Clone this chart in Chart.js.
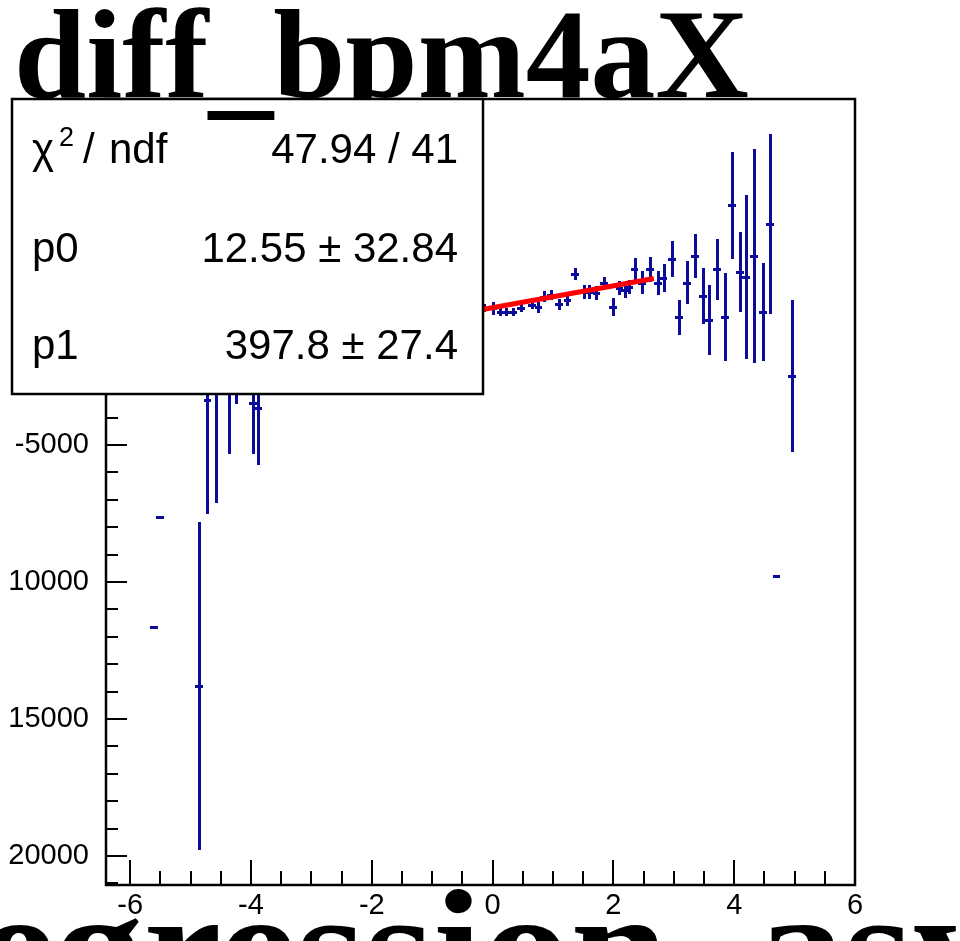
<!DOCTYPE html>
<html>
<head>
<meta charset="utf-8">
<script src="https://cdn.jsdelivr.net/npm/chart.js@4/dist/chart.umd.min.js"></script>
<style>
    html, body { margin: 0; padding: 0; background: #fff; overflow: hidden; }
    #wrap { position: relative; width: 960px; height: 941px; overflow: hidden; background: #fff; }
    #plot { position: absolute; left: -10px; top: 0; width: 970px; height: 941px; }
</style>
</head>
<body>
<div id="wrap"><canvas id="plot" width="970" height="941"></canvas></div>
<script>
// profile points (bin mean x, mean y, error on y)
const xVals = [
    -5.61, -5.50, -4.86, -4.72, -4.58, -4.37, -4.24, -3.97, -3.88,
    -3.75, -3.62, -3.50, -3.37, -3.25, -3.12, -3.00, -2.87, -2.75, -2.62,
    -2.50, -2.37, -2.25, -2.12, -2.00, -1.87, -1.75, -1.62, -1.50, -1.37,
    -1.25, -1.12, -1.00, -0.87, -0.75, -0.62, -0.50, -0.37, -0.25,
    -0.14, 0.00, 0.13, 0.23, 0.34, 0.47, 0.65, 0.76, 0.85, 0.97,
    1.10, 1.24, 1.36, 1.51, 1.60, 1.72, 1.84, 1.99, 2.10, 2.19,
    2.26, 2.35, 2.48, 2.61, 2.74, 2.83, 2.97, 3.09, 3.22, 3.35,
    3.48, 3.58, 3.71, 3.85, 3.97, 4.10, 4.20, 4.33, 4.47, 4.59,
    4.70, 4.95
];
const yVals = [
    -11640, -7640, -13790, -3360, -1800, -1200, -900, -3460, -3660,
    -1900, -1400, -1900, -1300, -900, -1800, -1100, -1500, -1000, -1150,
    -950, -870, -1000, -800, -760, -820, -640, -700, -560, -600,
    -420, -520, -380, -330, -320, -230, -200, -150, -90,
    -10, -10, -135, -135, -135, -10, 110, 25, 410, 475,
    145, 290, 1230, 595, 595, 560, 925, 45, 720, 655,
    780, 1410, 925, 1410, 925, 1105, 1790, -340, 925, 1900,
    440, -440, 1410, -340, 3750, 1310, 1120, 1900, -145, 3065,
    -9790, -2480
];
const yErrs = [
    0, 0, 5990, 4140, 5300, 4130, 2600, 1870, 2080,
    1000, 900, 900, 800, 700, 750, 600, 550, 500, 450,
    400, 380, 350, 330, 300, 280, 260, 240, 220, 210,
    200, 190, 180, 170, 160, 160, 150, 150, 150,
    150, 240, 150, 150, 150, 150, 150, 200, 200, 200,
    200, 200, 220, 250, 250, 250, 220, 320, 250, 300,
    250, 400, 420, 470, 440, 520, 640, 640, 780, 810,
    1020, 1265, 1110, 1610, 1950, 1460, 2990, 3920, 1790, 3300,
    0, 2770
];
const xErr = 0.065;

// pol1 fit drawn over its range
const fitX = [-2.5, 2.67];
const fitY = [-982, 1075];

const xTicks = [-6, -4, -2, 0, 2, 4, 6];
const yTicks = [-20000, -15000, -10000, -5000, 0, 5000];
// labels as printed (the minus of the long ones falls off the canvas edge)
const yTickLabels = ['20000', '15000', '10000', '-5000', '0', '5000'];

const statsValues = ['47.94 / 41', '12.55 \u00b1 32.84', '397.8 \u00b1 27.4'];

const titleText = 'diff_bpm4aX';
const xTitleText = 'regression_asym_us_avg';

const BAR_COLOR = '#0b0b9c';
const OFF = 10; // canvas sits 10px left of the window
const SANS = '"Liberation Sans", Arial, sans-serif';
const SERIF = '"Liberation Serif", "Times New Roman", serif';

function drawTicks(ctx, chart) {
    const { x, y } = chart.scales;
    const a = chart.chartArea;
    ctx.strokeStyle = '#000';
    ctx.lineWidth = 2;
    ctx.beginPath();
    for (let v = -21000; v <= 7000; v += 1000) {
        const py = Math.round(y.getPixelForValue(v));
        if (py < a.top || py > a.bottom) continue;
        const len = v % 5000 === 0 ? 21 : 12;
        ctx.moveTo(a.left, py);
        ctx.lineTo(a.left + len, py);
    }
    for (let v = -6; v <= 6; v += 0.5) {
        const px = Math.round(x.getPixelForValue(v));
        if (px < a.left || px > a.right) continue;
        const len = v % 2 === 0 ? 25 : 14;
        ctx.moveTo(px, a.bottom);
        ctx.lineTo(px, a.bottom - len);
    }
    ctx.stroke();
    ctx.lineWidth = 2.5;
    ctx.strokeRect(a.left, a.top, a.right - a.left, a.bottom - a.top);
}

function drawStats(ctx) {
    const left = 12 + OFF, top = 99, right = 483 + OFF, bottom = 394;
    ctx.fillStyle = '#fff';
    ctx.fillRect(left, top, right - left, bottom - top);
    ctx.strokeStyle = '#000';
    ctx.lineWidth = 2.5;
    ctx.strokeRect(left, top, right - left, bottom - top);

    const baselines = [163, 262, 359];
    const x0 = 32 + OFF;
    ctx.fillStyle = '#000';
    ctx.textBaseline = 'alphabetic';
    ctx.textAlign = 'left';

    // chi^2 / ndf
    ctx.font = '42px ' + SANS;
    ctx.fillText('\u03c7', x0, baselines[0]);
    ctx.font = '27px ' + SANS;
    ctx.fillText('2', x0 + 27, baselines[0] - 17);
    ctx.font = '42px ' + SANS;
    ctx.fillText('/', x0 + 51, baselines[0]);
    ctx.fillText('ndf', x0 + 77, baselines[0]);
    ctx.fillText('p0', x0, baselines[1]);
    ctx.fillText('p1', x0, baselines[2]);

    ctx.textAlign = 'right';
    statsValues.forEach((s, i) => ctx.fillText(s, 458 + OFF, baselines[i]));
}

function drawTitles(ctx, cw) {
    ctx.fillStyle = '#000';
    ctx.textAlign = 'left';
    ctx.textBaseline = 'alphabetic';

    // title: descenders hidden under the frame line, underscore sits in the box
    ctx.font = 'bold 126px ' + SERIF;
    const sx = 735 / ctx.measureText(titleText).width;
    const head = ctx.measureText('diff').width;
    ctx.save();
    ctx.beginPath();
    ctx.rect(0, 0, cw, 98);
    ctx.clip();
    ctx.translate(14 + OFF, 97);
    ctx.scale(sx, 1);
    ctx.fillText(titleText, 0, 0);
    ctx.restore();

    ctx.save();
    ctx.beginPath();
    ctx.rect(0, 98, cw, 40);
    ctx.clip();
    ctx.translate(14 + OFF, 102);
    ctx.scale(sx, 1);
    ctx.fillText('_', head, 0);
    ctx.restore();

    // axis title, mostly below the window edge
    ctx.font = 'bold 160px ' + SERIF;
    const pre = ctx.measureText('regress').width;
    const iw = ctx.measureText('i').width;
    const bx = 1.1;
    ctx.save();
    ctx.translate(458 + OFF - (pre + iw / 2) * bx, 1001);
    ctx.scale(bx, 1);
    ctx.fillText(xTitleText, 0, 0);
    ctx.restore();
}

const rootStyle = {
    id: 'rootStyle',
    beforeDatasetsDraw(chart) {
        const { ctx, chartArea: a } = chart;
        const { x, y } = chart.scales;
        ctx.save();
        ctx.beginPath();
        ctx.rect(a.left, a.top, a.right - a.left, a.bottom - a.top);
        ctx.clip();
        ctx.strokeStyle = BAR_COLOR;
        ctx.lineWidth = 3;
        xVals.forEach((xv, i) => {
            const px = Math.round(x.getPixelForValue(xv)) + 0.5;
            const py = Math.round(y.getPixelForValue(yVals[i])) + 0.5;
            ctx.beginPath();
            ctx.moveTo(Math.round(x.getPixelForValue(xv - xErr)), py);
            ctx.lineTo(Math.round(x.getPixelForValue(xv + xErr)), py);
            if (yErrs[i] > 0) {
                ctx.moveTo(px, Math.round(y.getPixelForValue(yVals[i] + yErrs[i])));
                ctx.lineTo(px, Math.round(y.getPixelForValue(yVals[i] - yErrs[i])));
            }
            ctx.stroke();
        });
        ctx.restore();
    },
    afterDraw(chart) {
        const ctx = chart.ctx;
        ctx.save();
        drawTicks(ctx, chart);
        drawStats(ctx);
        drawTitles(ctx, chart.width);
        ctx.restore();
    }
};

const tickFont = { family: "'Liberation Sans', Arial, sans-serif", size: 29 };

new Chart(document.getElementById('plot'), {
    type: 'scatter',
    data: {
        datasets: [{
            label: 'points',
            data: xVals.map((v, i) => ({ x: v, y: yVals[i] })),
            pointRadius: 0,
            showLine: false
        }, {
            label: 'fit',
            data: fitX.map((v, i) => ({ x: v, y: fitY[i] })),
            showLine: true,
            borderColor: '#ff0000',
            borderWidth: 5,
            pointRadius: 0
        }]
    },
    options: {
        responsive: false,
        animation: false,
        devicePixelRatio: 1,
        layout: { padding: { left: 0, right: 105, top: 99, bottom: 0 } },
        plugins: {
            legend: { display: false },
            tooltip: { enabled: false },
            title: { display: false }
        },
        scales: {
            x: {
                type: 'linear',
                min: -6.4,
                max: 6.0,
                grid: { display: false, drawTicks: false },
                border: { display: false },
                ticks: {
                    font: tickFont,
                    color: '#000',
                    padding: 4,
                    maxRotation: 0,
                    autoSkip: false,
                    callback: v => String(v)
                },
                afterBuildTicks: s => { s.ticks = xTicks.map(v => ({ value: v })); },
                afterFit: s => { s.height = 56; }
            },
            y: {
                type: 'linear',
                min: -21060,
                max: 7630,
                grid: { display: false, drawTicks: false },
                border: { display: false },
                ticks: {
                    font: tickFont,
                    color: '#000',
                    padding: 17,
                    autoSkip: false,
                    callback: (v, i) => yTickLabels[i]
                },
                afterBuildTicks: s => { s.ticks = yTicks.map(v => ({ value: v })); },
                afterFit: s => { s.width = 116; }
            }
        }
    },
    plugins: [rootStyle]
});
</script>
</body>
</html>
